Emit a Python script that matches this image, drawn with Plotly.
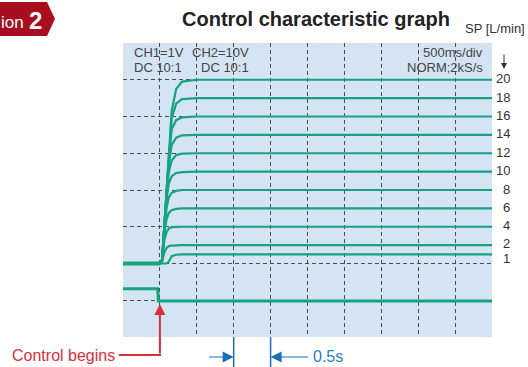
import plotly.graph_objects as go

# ---------------- data ----------------
t_ms = [0, 500, 530, 560, 590, 620, 660, 720, 800, 1000, 5000]   # time, ms (500 ms/div)
sp_values = [20, 18, 16, 14, 12, 10, 8, 6, 4, 2, 1]               # set points, L/min

resp_20 = [0, 0, 0.4, 4.2, 8.1, 12.0, 16.6, 19.0, 19.8, 20, 20]
resp_18 = [0, 0, 0.4, 4.2, 8.1, 11.9, 15.8, 17.4, 17.9, 18, 18]
resp_16 = [0, 0, 0.4, 4.2, 8.0, 11.5, 14.6, 15.6, 15.9, 16, 16]
resp_14 = [0, 0, 0.4, 4.2, 7.9, 10.8, 12.9, 13.7, 13.95, 14, 14]
resp_12 = [0, 0, 0.4, 4.1, 7.6, 9.9, 11.2, 11.8, 11.95, 12, 12]
resp_10 = [0, 0, 0.4, 4.0, 7.0, 8.7, 9.5, 9.85, 9.95, 10, 10]
resp_8 = [0, 0, 0.4, 3.8, 6.0, 7.2, 7.7, 7.9, 8, 8, 8]
resp_6 = [0, 0, 0.4, 3.3, 4.8, 5.5, 5.8, 5.95, 6, 6, 6]
resp_4 = [0, 0, 0.3, 2.5, 3.4, 3.8, 3.95, 4, 4, 4, 4]
resp_2 = [0, 0, 0.2, 1.2, 1.7, 1.9, 1.95, 2, 2, 2, 2]
resp_1 = [0, 0, 0, 0, 0, 0.2, 0.8, 0.95, 1, 1, 1]
responses = [resp_20, resp_18, resp_16, resp_14, resp_12, resp_10,
             resp_8, resp_6, resp_4, resp_2, resp_1]

baseline_t = [0, 500]
baseline_v = [0, 0]

# CH2 (control signal), in screen divisions
ch2_t = [0, 470, 480, 5000]
ch2_div = [1.31, 1.31, 0.98, 0.98]

x_grid = [500, 1000, 1500, 2000, 2500, 3000, 3500, 4000, 4500]
y_grid = [-4, 0, 4, 8, 12, 16, 20]

dim_start, dim_end = 1500, 2000   # 0.5 s dimension
control_begin = 500

# ---------------- layout helpers ----------------
W, H = 528, 367
L, R, T, B = 123, 492, 43, 337
PW, PH = R - L, B - T


def px_x(px):
    return (px - L) / PW


def px_y(py):
    return (B - py) / PH


GREEN = "#17a37f"
FONT = "Liberation Sans, Arial, Helvetica, sans-serif"
TXT = "#444444"

fig = go.Figure()

fig.add_trace(go.Scatter(x=baseline_t, y=baseline_v, mode="lines",
                         line=dict(color=GREEN, width=4), showlegend=False,
                         hoverinfo="skip"))
for resp in responses:
    fig.add_trace(go.Scatter(x=t_ms, y=resp, mode="lines",
                             line=dict(color=GREEN, width=2.2), showlegend=False))
fig.add_trace(go.Scatter(x=ch2_t, y=ch2_div, mode="lines", yaxis="y2",
                         line=dict(color=GREEN, width=3), showlegend=False))

grid = dict(showgrid=True, gridcolor="#4d4d4d", gridwidth=1, griddash="4px,3px",
            showticklabels=False, ticks="", zeroline=False, showline=False)

fig.update_layout(
    width=W, height=H,
    margin=dict(l=L, r=W - R, t=T, b=H - B),
    paper_bgcolor="white",
    plot_bgcolor="#d4e4f3",
    xaxis=dict(range=[0, 5000], tickvals=x_grid, **grid),
    yaxis=dict(range=[-8, 24], tickvals=y_grid, **grid),
    yaxis2=dict(range=[0, 8], overlaying="y", visible=False),
    font=dict(family=FONT, color=TXT),
)

ann = []


def text(t, xp, yp, size, color, xanchor="center", **kw):
    d = dict(text=t, x=px_x(xp), y=px_y(yp), xref="paper", yref="paper",
             xanchor=xanchor, yanchor="middle", showarrow=False,
             font=dict(size=size, color=color, family=FONT))
    d.update(kw)
    ann.append(d)


text("<b>Control characteristic graph</b>", 452, 19, 20, "#222222", xanchor="right")
text("SP [L/min]", 527, 29, 13, "#333333", xanchor="right")
# down arrow
ann.append(dict(text="", x=px_x(504), y=px_y(69), xref="paper", yref="paper",
                showarrow=True, ax=0, ay=-16, arrowhead=2, arrowsize=1.2, arrowwidth=1,
                arrowcolor="#333333", standoff=0))
# set point labels
label_shift = {1: -4, 2: 2}
for sp in sp_values:
    ann.append(dict(text=str(sp), x=px_x(512), y=sp, xref="paper", yref="y",
                    xanchor="right", yanchor="middle", showarrow=False,
                    yshift=label_shift.get(sp, 1),
                    font=dict(size=13, color="#333333", family=FONT)))
# scope texts
text("CH1=1V", 132, 52, 13, TXT, xanchor="left")
text("DC 10:1", 132, 67, 13, TXT, xanchor="left")
text("CH2=10V", 251, 52, 13, TXT, xanchor="right")
text("DC 10:1", 251, 67, 13, TXT, xanchor="right")
text("500ms/div", 485, 52, 13, TXT, xanchor="right")
text("NORM;2kS/s", 485, 67, 13, TXT, xanchor="right")
# badge text
text("ion", -1, 22, 17, "white", xanchor="left")
text("<b>2</b>", 27, 20, 24, "white", xanchor="left")
# control begins
RED = "#d8303a"
text("Control begins", 117, 355, 16, RED, xanchor="right")
ann.append(dict(text="", x=control_begin, y=px_y(304), xref="x", yref="paper",
                showarrow=True, ax=0, ay=51, arrowhead=2, arrowsize=1.1, arrowwidth=2,
                arrowcolor=RED, standoff=0))
# 0.5 s dimension
BLUE = "#1d6fb8"
LBLUE = "#86b8e2"
ann.append(dict(text="", x=dim_start, y=px_y(357), xref="x", yref="paper",
                showarrow=True, ax=-10, ay=0, arrowhead=2, arrowsize=1.1, arrowwidth=2,
                arrowcolor=BLUE, standoff=0))
ann.append(dict(text="", x=dim_end, y=px_y(357), xref="x", yref="paper",
                showarrow=True, ax=10, ay=0, arrowhead=2, arrowsize=1.1, arrowwidth=2,
                arrowcolor=BLUE, standoff=0))
text("0.5s", 311, 356, 16, "#2b80c4", xanchor="left")

shapes = []
# badge polygon
bx = [px_x(-5), px_x(47), px_x(55), px_x(47), px_x(-5)]
by = [px_y(2), px_y(2), px_y(19), px_y(36), px_y(36)]
path = "M " + " L ".join(f"{a},{b}" for a, b in zip(bx, by)) + " Z"
shapes.append(dict(type="path", path=path, xref="paper", yref="paper",
                   fillcolor="#a70f1f", line=dict(width=0), layer="below"))
shapes.append(dict(type="line", x0=px_x(119), x1=px_x(161), y0=px_y(355), y1=px_y(355),
                   xref="paper", yref="paper", line=dict(color=RED, width=2)))
shapes.append(dict(type="line", x0=px_x(209), x1=px_x(225), y0=px_y(357), y1=px_y(357),
                   xref="paper", yref="paper", line=dict(color=LBLUE, width=2)))
shapes.append(dict(type="line", x0=px_x(279), x1=px_x(308), y0=px_y(357), y1=px_y(357),
                   xref="paper", yref="paper", line=dict(color=LBLUE, width=2)))
for xv in (dim_start, dim_end):
    shapes.append(dict(type="line", x0=xv, x1=xv, y0=px_y(337), y1=px_y(368),
                       xref="x", yref="paper", line=dict(color=BLUE, width=1.5)))

fig.update_layout(annotations=ann, shapes=shapes)
fig.write_html("out.html", config={"displayModeBar": False},
               post_script="document.body.style.margin='0';document.body.style.overflow='hidden';")
